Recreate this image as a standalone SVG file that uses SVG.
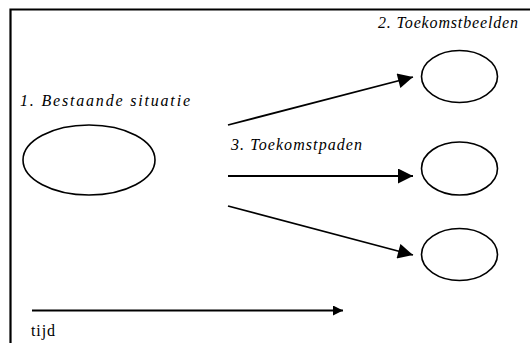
<svg xmlns="http://www.w3.org/2000/svg" width="530" height="343" viewBox="0 0 530 343">
<style>
.node{fill:#fff;stroke:#000;stroke-width:1.6}
.conn{stroke:#000;stroke-width:1.8;fill:none}
.it{font-family:'Liberation Serif','Times New Roman',serif;font-style:italic;font-size:16px;fill:#000}
.rg{font-family:'Liberation Serif','Times New Roman',serif;font-size:16px;fill:#000}
</style>
<defs>
<marker id="ah" viewBox="0 0 10 10" refX="10" refY="5" markerUnits="userSpaceOnUse" markerWidth="16" markerHeight="15" orient="auto">
<path d="M0,0 L10,5 L0,10 Z" fill="#000"/>
</marker>
<marker id="ahs" viewBox="0 0 10 10" refX="10" refY="5" markerUnits="userSpaceOnUse" markerWidth="15" markerHeight="10" orient="auto">
<path d="M0,0 L10,5 L0,10 Z" fill="#000"/>
</marker>
</defs>
<rect width="530" height="343" fill="#fff"/>
<path d="M10.5,345 V9.5 H532" fill="none" stroke="#000" stroke-width="2.2"/>
<g id="bestaande">
<ellipse class="node" cx="89" cy="160" rx="66" ry="35"/>
<text class="it" x="20" y="106" textLength="170" lengthAdjust="spacing">1. Bestaande situatie</text>
</g>
<g id="beeld1">
<ellipse class="node" cx="459.5" cy="76.5" rx="38" ry="26"/>
<text class="it" x="378" y="28" textLength="140" lengthAdjust="spacing">2. Toekomstbeelden</text>
</g>
<g id="beeld2">
<ellipse class="node" cx="459.5" cy="168.5" rx="38" ry="26.5"/>
</g>
<g id="beeld3">
<ellipse class="node" cx="459.5" cy="254.5" rx="38" ry="26"/>
</g>
<g id="paden-label">
<text class="it" x="231" y="150" textLength="131" lengthAdjust="spacing">3. Toekomstpaden</text>
</g>
<g id="connectors">
<line class="conn" x1="228" y1="125" x2="413" y2="77" marker-end="url(#ah)"/>
<line class="conn" x1="228" y1="176" x2="413" y2="176" marker-end="url(#ah)"/>
<line class="conn" x1="228" y1="206" x2="413" y2="255" marker-end="url(#ah)"/>
<line class="conn" x1="32" y1="310.5" x2="343" y2="310.5" marker-end="url(#ahs)"/>
</g>
<g id="tijd">
<text class="rg" x="31" y="336" textLength="24">tijd</text>
</g>
</svg>
